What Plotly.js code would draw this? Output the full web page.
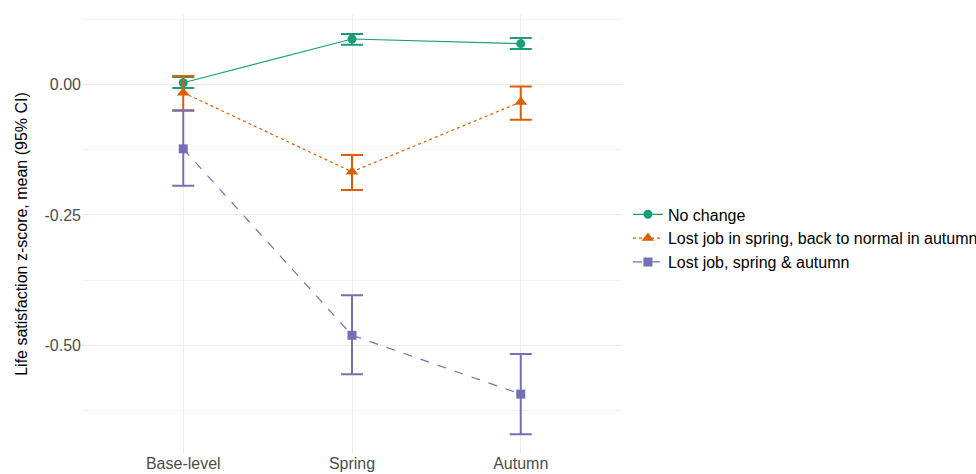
<!DOCTYPE html>
<html>
<head>
<meta charset="utf-8">
<script src="https://cdn.plot.ly/plotly-3.0.1.min.js"></script>
<style>html,body{margin:0;padding:0;background:#fff;}#chart{width:976px;height:474px;}</style>
</head>
<body>
<div id="chart"></div>
<script>
const categories = ["Base-level", "Spring", "Autumn"];
const seriesNames = ["No change", "Lost job in spring, back to normal in autumn", "Lost job, spring & autumn"];

const noChangeMean  = [0.004, 0.088, 0.079];
const noChangeLow   = [-0.006, 0.077, 0.069];
const noChangeHigh  = [0.015, 0.0975, 0.090];

const backMean  = [-0.015, -0.167, -0.033];
const backLow   = [-0.049, -0.202, -0.067];
const backHigh  = [0.017, -0.135, -0.003];

const lostMean  = [-0.123, -0.481, -0.594];
const lostLow   = [-0.194, -0.556, -0.671];
const lostHigh  = [-0.050, -0.404, -0.517];

const yTickVals = [0, -0.25, -0.5];
const yTickText = ["0.00", "-0.25", "-0.50"];

const colors = ["#1B9E77", "#D95F02", "#7570B3"];
const dashes = ["solid", "dot", "dash"];
const symbols = ["circle", "triangle-up", "square"];
const sizes = [9, 11, 9];

function mk(i, mean, low, high) {
  return {
    type: "scatter",
    mode: "lines+markers",
    name: seriesNames[i],
    x: categories,
    y: mean,
    line: {color: colors[i], width: 1.2, dash: dashes[i]},
    marker: {color: colors[i], symbol: symbols[i], size: sizes[i]},
    error_y: {
      type: "data",
      symmetric: false,
      array: high.map((h, k) => h - mean[k]),
      arrayminus: mean.map((m, k) => m - low[k]),
      color: colors[i],
      thickness: 2,
      width: 11
    }
  };
}

const data = [
  mk(0, noChangeMean, noChangeLow, noChangeHigh),
  mk(1, backMean, backLow, backHigh),
  mk(2, lostMean, lostLow, lostHigh)
];

const layout = {
  width: 976,
  height: 474,
  margin: {l: 82, r: 354, t: 14, b: 20, autoexpand: false},
  paper_bgcolor: "#fff",
  plot_bgcolor: "#fff",
  font: {family: "Liberation Sans, Arial, sans-serif", color: "#000"},
  showlegend: true,
  legend: {
    x: 1.011, xanchor: "left", y: 0.49, yanchor: "middle",
    font: {size: 16, color: "#000"},
    itemwidth: 30,
    tracegroupgap: 0,
    bgcolor: "rgba(0,0,0,0)"
  },
  xaxis: {
    type: "category",
    range: [-0.6, 2.6],
    automargin: false,
    showgrid: true,
    gridcolor: "#EBEBEB",
    gridwidth: 1,
    zeroline: false,
    showline: false,
    ticks: "",
    tickfont: {size: 16, color: "#4D4D4D"},
    ticklabelstandoff: -2
  },
  yaxis: {
    range: [-0.709, 0.136],
    automargin: false,
    tickvals: yTickVals,
    ticktext: yTickText,
    showgrid: true,
    gridcolor: "#EBEBEB",
    gridwidth: 1,
    minor: {dtick: 0.125, tick0: 0, showgrid: true, gridcolor: "#F3F3F3", gridwidth: 1, ticks: ""},
    zeroline: false,
    showline: false,
    ticks: "",
    tickfont: {size: 16, color: "#4D4D4D"},
    title: {text: "Life satisfaction z-score, mean (95% CI)", font: {size: 16, color: "#000"}, standoff: 12}
  }
};

Plotly.newPlot("chart", data, layout, {displayModeBar: false, staticPlot: true});
</script>
</body>
</html>
